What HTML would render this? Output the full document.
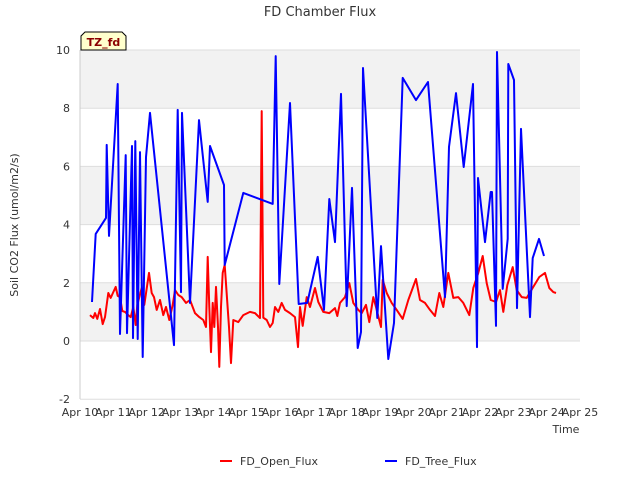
<!DOCTYPE html>
<html><head><meta charset="utf-8"><style>
body{margin:0;background:#fff;}
svg{display:block;font-family:"DejaVu Sans","Liberation Sans",sans-serif;}
</style></head><body>
<svg id="chart" width="640" height="480">
<text x="320" y="16" text-anchor="middle" font-size="13" fill="#333">FD Chamber Flux</text>
<g id="bands"></g><g id="grid"></g><g id="yticks"></g><g id="xticks"></g>
<line x1="80" y1="50" x2="80" y2="399" stroke="#ccc"/>
<g id="series"></g>
<text transform="translate(18,225) rotate(-90)" text-anchor="middle" font-size="11" fill="#333">Soil CO2 Flux (umol/m2/s)</text>
<text x="566" y="433" text-anchor="middle" font-size="11" fill="#333">Time</text>
<g>
<path d="M81,50 L81,36 L85,32 L122,32 L126,36 L126,50 Z" fill="#ffffcc" stroke="#000" stroke-width="1"/>
<text x="103.5" y="46" text-anchor="middle" font-size="11" font-weight="bold" fill="#8b0000">TZ_fd</text>
</g>
<g>
<g><line x1="220" y1="461" x2="232" y2="461" stroke="#f00" stroke-width="2"/><text x="240" y="465" font-size="11" fill="#333">FD_Open_Flux</text></g>
<g><line x1="385" y1="461" x2="397" y2="461" stroke="#00f" stroke-width="2"/><text x="405" y="465" font-size="11" fill="#333">FD_Tree_Flux</text></g>
</g>
</svg>
<script>
const xTickLabels=["Apr 10","Apr 11","Apr 12","Apr 13","Apr 14","Apr 15","Apr 16","Apr 17","Apr 18","Apr 19","Apr 20","Apr 21","Apr 22","Apr 23","Apr 24","Apr 25"];
const yTicks=[-2,0,2,4,6,8,10];
const treeDays=[0.36,0.47,0.78,0.80,0.87,1.13,1.20,1.37,1.41,1.56,1.59,1.66,1.73,1.80,1.88,1.98,2.10,2.82,2.93,3.03,3.06,3.30,3.57,3.83,3.90,4.32,4.34,4.90,5.78,5.87,5.98,6.30,6.56,6.82,7.13,7.32,7.48,7.65,7.83,8.00,8.16,8.33,8.43,8.49,8.92,9.03,9.25,9.42,9.68,10.08,10.44,10.95,11.07,11.28,11.51,11.79,11.91,11.94,12.15,12.32,12.36,12.48,12.51,12.68,12.83,12.85,13.02,13.11,13.23,13.50,13.58,13.77,13.92];
const treeVals=[1.34,3.68,4.23,6.74,3.61,8.83,0.24,6.39,0.27,6.70,0.10,6.87,0.07,6.49,-0.55,6.32,7.84,-0.14,7.94,1.68,7.84,1.31,7.59,4.78,6.70,5.36,2.61,5.09,4.71,9.79,1.96,8.18,1.27,1.31,2.89,1.07,4.88,3.40,8.49,1.20,5.26,-0.24,0.31,9.38,0.79,3.26,-0.62,0.62,9.04,8.28,8.90,1.51,6.67,8.52,5.98,8.83,-0.21,5.60,3.40,5.12,5.12,0.52,9.93,1.79,3.51,9.52,8.97,1.13,7.29,0.82,2.85,3.51,2.92];
const openDays=[0.30,0.40,0.45,0.52,0.60,0.68,0.75,0.85,0.92,1.00,1.07,1.13,1.20,1.27,1.35,1.45,1.52,1.60,1.67,1.72,1.85,1.93,2.07,2.15,2.22,2.30,2.40,2.50,2.58,2.68,2.78,2.85,2.95,3.05,3.18,3.30,3.45,3.58,3.70,3.78,3.83,3.88,3.93,3.98,4.03,4.08,4.14,4.18,4.23,4.28,4.34,4.47,4.53,4.60,4.75,4.90,5.10,5.25,5.40,5.45,5.50,5.60,5.70,5.78,5.85,5.95,6.05,6.15,6.30,6.45,6.54,6.60,6.68,6.80,6.90,7.05,7.15,7.30,7.48,7.65,7.72,7.80,7.95,8.08,8.20,8.35,8.45,8.58,8.68,8.80,8.88,9.03,9.08,9.20,9.35,9.50,9.68,9.85,10.08,10.20,10.35,10.50,10.65,10.78,10.90,11.05,11.20,11.35,11.50,11.68,11.80,11.95,12.08,12.20,12.32,12.48,12.60,12.70,12.82,12.98,13.10,13.25,13.40,13.60,13.78,13.95,14.08,14.20,14.28];
const openVals=[0.89,0.79,0.96,0.76,1.10,0.58,0.82,1.65,1.48,1.68,1.86,1.55,1.51,1.03,1.00,0.89,0.82,1.17,0.55,1.24,1.82,1.24,2.34,1.65,1.51,1.07,1.41,0.89,1.17,0.72,1.24,1.75,1.58,1.51,1.31,1.41,0.96,0.82,0.72,0.48,2.89,1.17,-0.38,1.31,0.48,1.86,0.48,-0.89,1.17,2.34,2.61,0.48,-0.76,0.72,0.65,0.89,1.00,0.96,0.79,7.90,0.80,0.72,0.48,0.62,1.17,1.00,1.31,1.07,0.96,0.82,-0.21,1.17,0.52,1.51,1.17,1.82,1.34,1.00,0.96,1.13,0.86,1.31,1.51,1.99,1.31,1.07,0.96,1.24,0.65,1.51,1.17,0.48,2.10,1.65,1.31,1.07,0.76,1.41,2.13,1.41,1.31,1.07,0.86,1.65,1.17,2.34,1.48,1.51,1.31,0.89,1.82,2.34,2.92,1.99,1.41,1.34,1.75,1.00,1.92,2.54,1.75,1.51,1.48,1.86,2.20,2.34,1.82,1.68,1.65];

const NS="http://www.w3.org/2000/svg";
const X0=80,X1=580,Y0=341,PPU=29.1;
function xs(d){return X0+d*(X1-X0)/15;}
function ys(v){return Y0-v*PPU;}
function mk(tag,attrs,parent){const e=document.createElementNS(NS,tag);for(const k in attrs)e.setAttribute(k,attrs[k]);document.getElementById(parent).appendChild(e);return e;}
[[8,10],[4,6],[0,2]].forEach(b=>{
  const r=mk('rect',{x:X0,y:ys(b[1]),width:X1-X0,height:ys(b[0])-ys(b[1]),fill:'#f2f2f2'},'bands');
  
  
});
yTicks.forEach(v=>{
  const l=mk('line',{x1:X0,x2:X1,y1:ys(v),y2:ys(v),stroke:'#ddd','stroke-width':1},'grid');
  
  
  const t=mk('text',{x:X0-10,y:ys(v)+4,'text-anchor':'end','font-size':11,fill:'#333'},'yticks');
  t.textContent=v;
  
  
});
xTickLabels.forEach((s,i)=>{
  const t=mk('text',{x:xs(i),y:416,'text-anchor':'middle','font-size':11,fill:'#333'},'xticks');
  t.textContent=s;
  
  
});
function line(days,vals,color,name){
  const pts=days.map((d,i)=>xs(d).toFixed(1)+','+ys(vals[i]).toFixed(1)).join(' ');
  const p=mk('polyline',{points:pts,fill:'none',stroke:color,'stroke-width':2,'stroke-linejoin':'round'},'series');
  
  
}
line(openDays,openVals,'#ff0000','fd-open-flux-line');
line(treeDays,treeVals,'#0000ff','fd-tree-flux-line');
</script>
</body></html>
